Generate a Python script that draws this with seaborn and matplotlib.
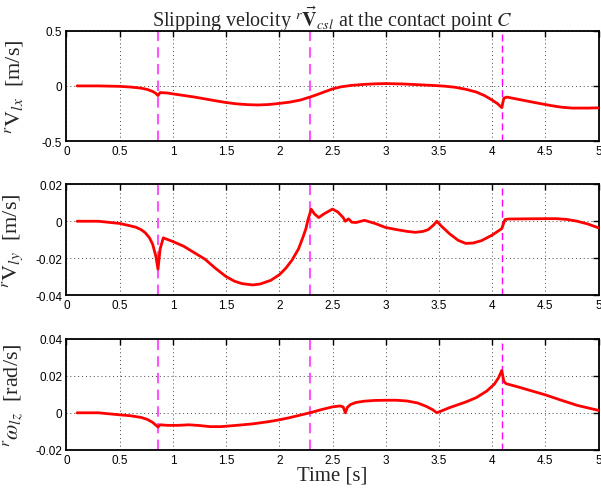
import matplotlib
matplotlib.use("Agg")
import matplotlib.pyplot as plt
from matplotlib.ticker import FormatStrFormatter
import seaborn as sns
import pandas as pd

# Slipping velocity components over time
t_vx = [0.10, 0.30, 0.50, 0.60, 0.70, 0.76, 0.81, 0.84, 0.86, 0.88, 0.95, 1.00, 1.10,
        1.20, 1.30, 1.40, 1.50, 1.60, 1.70, 1.80, 1.90, 2.00, 2.10, 2.20, 2.29, 2.35,
        2.42, 2.50, 2.58, 2.68, 2.80, 2.90, 3.00, 3.15, 3.30, 3.45, 3.55, 3.65, 3.75,
        3.85, 3.93, 4.00, 4.05, 4.09, 4.11, 4.14, 4.25, 4.40, 4.55, 4.65, 4.75, 4.90, 5.00]
v_lx = [0.0, 0.0, -0.004, -0.010, -0.020, -0.032, -0.050, -0.068, -0.087, -0.060,
        -0.064, -0.072, -0.086, -0.100, -0.117, -0.134, -0.150, -0.162, -0.169, -0.172,
        -0.168, -0.158, -0.146, -0.127, -0.100, -0.080, -0.055, -0.027, -0.008, 0.005,
        0.014, 0.019, 0.021, 0.018, 0.011, 0.004, -0.002, -0.012, -0.030, -0.055, -0.088,
        -0.128, -0.160, -0.196, -0.110, -0.101, -0.122, -0.150, -0.177, -0.192, -0.200,
        -0.200, -0.198]

t_vy = [0.10, 0.30, 0.50, 0.60, 0.65, 0.70, 0.74, 0.78, 0.81, 0.84, 0.86, 0.88, 0.91,
        1.00, 1.10, 1.20, 1.30, 1.40, 1.50, 1.58, 1.65, 1.75, 1.82, 1.92, 2.00, 2.06,
        2.12, 2.18, 2.22, 2.25, 2.27, 2.30, 2.33, 2.37, 2.42, 2.50, 2.55, 2.60, 2.62,
        2.65, 2.68, 2.72, 2.80, 2.90, 3.00, 3.10, 3.20, 3.28, 3.35, 3.40, 3.45, 3.48,
        3.52, 3.60, 3.68, 3.75, 3.82, 3.90, 4.00, 4.09, 4.12, 4.15, 4.30, 4.50, 4.60,
        4.70, 4.80, 4.90, 5.00]
v_ly = [0.0, 0.0, -0.0012, -0.0025, -0.0032, -0.0045, -0.0062, -0.0090, -0.0125,
        -0.0190, -0.0260, -0.0150, -0.0090, -0.0110, -0.0135, -0.0170, -0.0205, -0.0255,
        -0.0300, -0.0325, -0.0338, -0.0345, -0.0340, -0.0320, -0.0290, -0.0255, -0.0210,
        -0.0150, -0.0090, -0.0040, 0.0010, 0.0065, 0.0040, 0.0020, 0.0040, 0.0066,
        0.0050, 0.0020, 0.0, 0.0013, -0.0005, -0.0007, 0.0005, -0.0012, -0.0034, -0.0045,
        -0.0055, -0.0060, -0.0055, -0.0045, -0.0020, 0.0, -0.0025, -0.0068, -0.0103,
        -0.0120, -0.0118, -0.0105, -0.0075, -0.0040, 0.0009, 0.0012, 0.0013, 0.0014,
        0.0014, 0.0010, 0.0, -0.0015, -0.0036]

t_wz = [0.10, 0.30, 0.50, 0.60, 0.70, 0.76, 0.81, 0.86, 0.88, 0.95, 1.05, 1.15, 1.25,
        1.35, 1.45, 1.60, 1.75, 1.90, 2.00, 2.10, 2.20, 2.30, 2.40, 2.50, 2.57, 2.60,
        2.62, 2.64, 2.67, 2.72, 2.80, 2.90, 3.00, 3.10, 3.20, 3.30, 3.38, 3.44, 3.48,
        3.60, 3.75, 3.85, 3.95, 4.02, 4.06, 4.09, 4.11, 4.13, 4.25, 4.50, 4.65, 4.80, 5.00]
w_lz = [0.0, 0.0, -0.0011, -0.0016, -0.0025, -0.0036, -0.0052, -0.0077, -0.0065,
        -0.0068, -0.0068, -0.0065, -0.0069, -0.0075, -0.0075, -0.0068, -0.0060, -0.0048,
        -0.0038, -0.0026, -0.0012, 0.0002, 0.0018, 0.0032, 0.0037, 0.0032, 0.0, 0.0030,
        0.0045, 0.0056, 0.0063, 0.0067, 0.0068, 0.0068, 0.0064, 0.0053, 0.0035, 0.0017,
        0.0, 0.0028, 0.0058, 0.0082, 0.0118, 0.0155, 0.0190, 0.0229, 0.0170, 0.0158,
        0.0139, 0.0097, 0.0068, 0.0040, 0.0013]

# Contact transition instants
events = [0.86, 2.29, 4.095]

x_ticks = [0, 0.5, 1, 1.5, 2, 2.5, 3, 3.5, 4, 4.5, 5]
y_ticks = [[-0.5, 0, 0.5], [-0.04, -0.02, 0, 0.02], [-0.02, 0, 0.02, 0.04]]
y_labels = [r"$^{r}\mathrm{V}_{lx}$  [m/s]",
            r"$^{r}\mathrm{V}_{ly}$  [m/s]",
            r"$^{r}\omega_{lz}$  [rad/s]"]

sns.set_style("white")
plt.rcParams["font.family"] = ["Liberation Sans", "DejaVu Sans"]
plt.rcParams["mathtext.fontset"] = "stix"

fig = plt.figure(figsize=(6.01, 4.89), dpi=100)
left, width = 0.1106, 0.8854
bottoms = [0.709, 0.3945, 0.0783]
height = 0.2265

series = [(t_vx, v_lx), (t_vy, v_ly), (t_wz, w_lz)]
axes = []
for i, (tt, vv) in enumerate(series):
    ax = fig.add_axes([left, bottoms[i], width, height])
    axes.append(ax)
    df = pd.DataFrame({"t": tt, "v": vv})
    sns.lineplot(data=df, x="t", y="v", ax=ax, color="red", linewidth=2.0,
                 estimator=None, sort=False, zorder=3)
    for k, ev in enumerate(events):
        if k < 2:
            ax.axvline(ev, color="#ff55ff", linestyle=(0, (5, 3)), linewidth=1.5, zorder=2)
        else:
            ax.axvline(ev, color="#ff00ff", linestyle=(0, (5, 3)), linewidth=1.0, zorder=2)
    ax.set_xlim(0, 5)
    ax.set_ylim(y_ticks[i][0], y_ticks[i][-1])
    ax.set_xticks(x_ticks)
    ax.set_yticks(y_ticks[i])
    ax.xaxis.set_major_formatter(FormatStrFormatter("%g"))
    ax.yaxis.set_major_formatter(FormatStrFormatter("%g"))
    ax.grid(True, linestyle=(0, (1, 3)), color="#444444", linewidth=0.7)
    ax.tick_params(direction="in", length=4, width=1.0, top=True, right=True,
                   labelsize=8.5, pad=3, colors="black")
    for s in ax.spines.values():
        s.set_color("black")
        s.set_linewidth(1.3)
    ax.set_xlabel("")
    ax.set_ylabel(y_labels[i], fontsize=16, family=["Liberation Serif", "DejaVu Serif"])
    ax.yaxis.set_label_coords(-0.078, 0.5)

axes[0].set_title(r"Slipping velocity $^{r}\vec{\mathbf{V}}_{csl}$ at the contact point $C$",
                  fontsize=14.5, family=["Liberation Serif", "DejaVu Serif"], pad=3)
axes[2].set_xlabel("Time [s]", fontsize=15, family=["Liberation Serif", "DejaVu Serif"],
                   labelpad=0)

fig.savefig("out.png", dpi=100)
